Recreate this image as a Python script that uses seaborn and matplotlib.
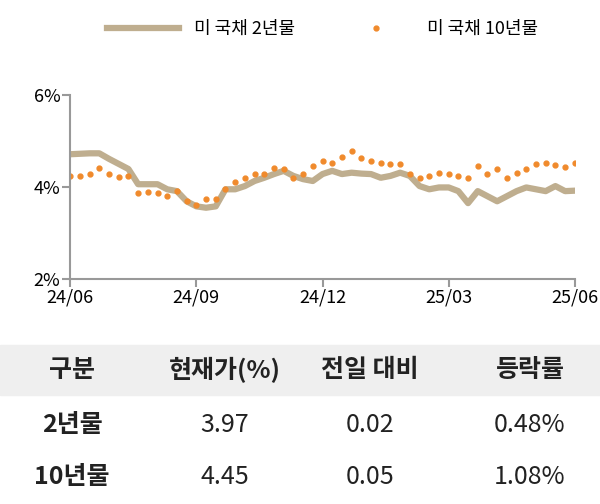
import matplotlib
matplotlib.use("Agg")
import matplotlib.pyplot as plt
import seaborn as sns
import pandas as pd
import numpy as np

plt.rcParams["font.family"] = ["Noto Sans CJK JP", "Noto Sans CJK KR", "Noto Sans CJK SC", "DejaVu Sans"]

y2 = [4.71,4.72,4.73,4.73,4.61,4.50,4.39,4.06,4.06,4.06,3.95,3.91,3.69,3.58,3.55,3.58,3.95,3.95,4.02,4.13,
      4.20,4.28,4.35,4.24,4.17,4.13,4.28,4.35,4.28,4.31,4.29,4.28,4.20,4.24,4.31,4.24,4.02,3.95,3.99,3.99,
      3.91,3.65,3.91,3.80,3.69,3.80,3.91,3.99,3.95,3.91,4.02,3.91,3.92]
y10 = [4.24,4.24,4.29,4.42,4.28,4.22,4.24,3.88,3.90,3.88,3.80,3.91,3.69,3.62,3.73,3.73,3.95,4.10,4.20,4.29,
       4.29,4.42,4.38,4.20,4.28,4.46,4.57,4.53,4.66,4.79,4.63,4.57,4.53,4.50,4.50,4.28,4.19,4.24,4.31,4.29,
       4.24,4.20,4.46,4.29,4.38,4.19,4.31,4.38,4.50,4.53,4.48,4.44,4.51]
xticks = ["24/06","24/09","24/12","25/03","25/06"]
headers = ["구분","현재가(%)","전일 대비","등락률"]
rows = [["2년물","3.97","0.02","0.48%"],["10년물","4.45","0.05","1.08%"]]

df = pd.DataFrame({"w": np.arange(len(y2)), "y2": y2, "y10": y10})

fig = plt.figure(figsize=(6,5.04), dpi=100)
ax = fig.add_axes([0.117, 0.446, 0.841, 0.366])
sns.lineplot(data=df, x="w", y="y2", ax=ax, color="#bfae8f", lw=4.5, label="미 국채 2년물")
ax.plot(df["w"], df["y10"], ls="none", marker="o", ms=3.5, color="#f08a2c", label="미 국채 10년물")
ax.set_ylim(2,6); ax.set_xlim(0,52)
ax.set_yticks([2,4,6]); ax.set_yticklabels(["2%","4%","6%"], fontsize=13)
ax.set_xticks([0,13,26,39,52]); ax.set_xticklabels(xticks, fontsize=13)
for s in ["top","right"]: ax.spines[s].set_visible(False)
for s in ["left","bottom"]: ax.spines[s].set_color("#999999"); ax.spines[s].set_linewidth(1.5)
ax.tick_params(color="#999999", width=1.5, length=6, pad=1)
ax.set_xlabel(""); ax.set_ylabel("")
ax.legend(loc="lower center", bbox_to_anchor=(0.5, 1.22), ncol=2, frameon=False, fontsize=13,
          handlelength=4, columnspacing=2.5)

# table
H = 504.0
def fy(p): return 1 - p/H
fig.patches.append(plt.Rectangle((0, fy(395)), 1, (395-345)/H, transform=fig.transFigure, color="#efefef", zorder=0))
cx = [72/600, 225/600, 370/600, 530/600]
for j, h in enumerate(headers):
    fig.text(cx[j], fy(370), h, ha="center", va="center", fontsize=18, fontweight="bold", color="#222222")
for i, r in enumerate(rows):
    yy = fy(425 + 52*i)
    for j, v in enumerate(r):
        fig.text(cx[j], yy, v, ha="center", va="center", fontsize=18,
                 fontweight="bold" if j == 0 else "normal", color="#222222")
fig.savefig("out.png", dpi=100)
